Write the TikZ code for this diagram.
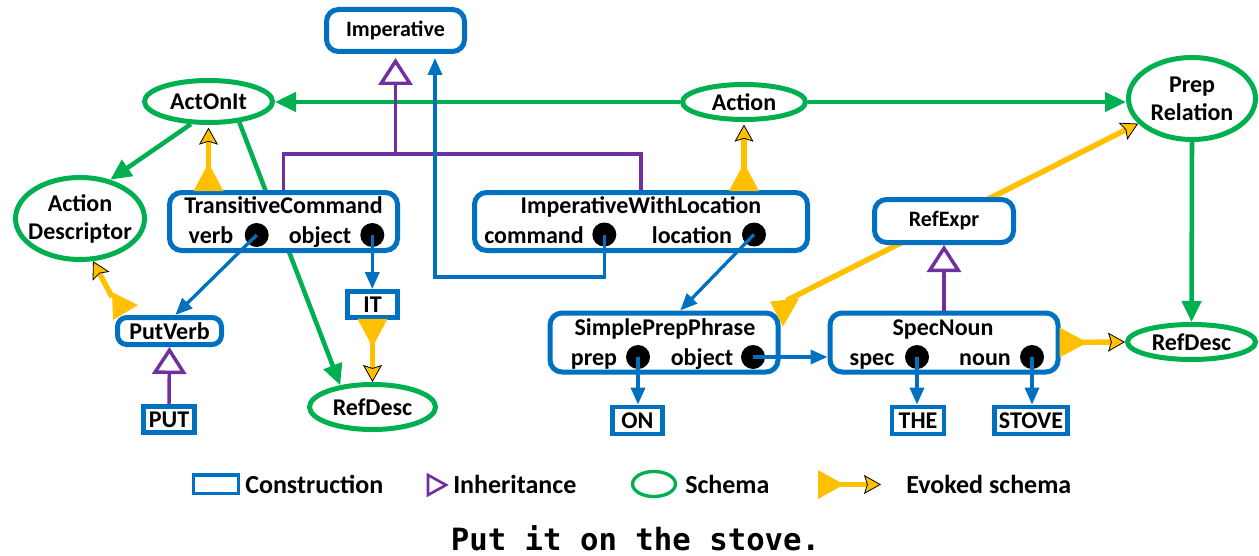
\documentclass[tikz,border=0pt]{standalone}
\usepackage{fontspec}
\setmainfont{Carlito}
\newfontfamily\codefont{DejaVu Sans Mono}
\usetikzlibrary{arrows.meta,shapes.geometric,calc,backgrounds}

\definecolor{cxblue}{HTML}{0070C0}
\definecolor{schgreen}{HTML}{00B050}
\definecolor{inhpurple}{HTML}{7030A0}
\definecolor{evkyellow}{HTML}{FFC000}

\tikzset{
  lbl/.style={font=\bfseries\fontsize{18}{21}\selectfont, inner sep=0pt},
  smalllbl/.style={font=\bfseries\fontsize{16.5}{20}\selectfont},
  legend/.style={font=\bfseries\fontsize{19.5}{23}\selectfont, inner sep=0pt},
  cxbox/.style={draw=cxblue, line width=3.75pt, rounded corners=9pt, fill=white, inner sep=0pt, lbl},
  wordbox/.style={draw=cxblue, line width=3.6pt, fill=white, inner sep=0pt, lbl},
  schema/.style={ellipse, draw=schgreen, line width=3.75pt, fill=white, inner sep=0pt},
  slot/.style={circle, fill=black, minimum size=18pt, inner sep=0pt},
  schemaarrow/.style={draw=schgreen, line width=3.4pt, -{Triangle[length=15.75pt,width=14.25pt]}},
  cxarrow/.style={draw=cxblue, line width=2.5pt, -{Triangle[length=12.75pt,width=10.5pt]}},
  inhline/.style={draw=inhpurple, line width=2.6pt},
  inharrow/.style={inhline, -{Triangle[open,length=20.25pt,width=25.5pt]}},
  evline/.style={draw=evkyellow, line width=4.1pt,
    -{Stealth[length=12.75pt,width=14.25pt,inset=2.25pt,fill=evkyellow,color=black,line width=0.6pt]}},
  evbase/.style={fill=evkyellow},
}

\begin{document}
\begin{tikzpicture}[x=0.75pt,y=-0.75pt]
\useasboundingbox (0,0) rectangle (1259,556);

% ---------- schemas ----------
\node[schema, minimum width=96pt, minimum height=31.5pt] (actonit) at (208.5,101.5) {};
\node[lbl] (actonit-t) at (actonit) {ActOnIt};
\node[schema, minimum width=92.25pt, minimum height=26.25pt] (act) at (744,102) {};
\node[lbl] (act-t) at (act) {Action};
\node[schema, minimum width=95.25pt, minimum height=61.5pt] (preprel) at (1192,98.5) {};
\node[lbl, align=center] (preprel-t) at (preprel) {Prep\\Relation};
\node[schema, minimum width=96.75pt, minimum height=61.5pt] (actdesc) at (80,218.5) {};
\node[lbl, align=center] (actdesc-t) at (actdesc) {Action\\Descriptor};
\node[schema, minimum width=94.5pt, minimum height=33.75pt] (refdescL) at (372.5,407) {};
\node[lbl] (refdescL-t) at (refdescL) {RefDesc};
\node[schema, minimum width=96pt, minimum height=26.25pt] (refdescR) at (1191.5,342) {};
\node[lbl] (refdescR-t) at (refdescR) {RefDesc};

% ---------- constructions ----------
\node[cxbox, smalllbl, minimum width=103.5pt, minimum height=31.5pt] (imp) at (395.5,30.5) {Imperative};
\node[cxbox, smalllbl, minimum width=104.25pt, minimum height=32.25pt] (refexpr) at (944,221) {RefExpr};
\node[cxbox, rounded corners=7pt, minimum width=78pt, minimum height=20.25pt] (pv) at (169.5,331) {PutVerb};

\node[cxbox, minimum width=171pt, minimum height=43.5pt] (tc) at (283.5,221.5) {};
\node[lbl, anchor=base] (tc-t) at (283.5,213) {TransitiveCommand};
\node[lbl, anchor=base] (tc-verb) at (211,243) {verb};
\node[lbl, anchor=base] (tc-obj) at (320,243) {object};
\node[slot] (tc-verbslot) at (256.7,235) {};
\node[slot] (tc-objslot) at (372.3,235) {};

\node[cxbox, minimum width=249.75pt, minimum height=43.5pt] (iwl) at (641,221.5) {};
\node[lbl, anchor=base] (iwl-t) at (641,213) {ImperativeWithLocation};
\node[lbl, anchor=base] (iwl-cmd) at (534,243) {command};
\node[lbl, anchor=base] (iwl-loc) at (692,243) {location};
\node[slot] (iwl-cmdslot) at (604.3,234.5) {};
\node[slot] (iwl-locslot) at (754,234.5) {};

\node[cxbox, minimum width=171pt, minimum height=44.25pt] (sp) at (664,342.5) {};
\node[lbl, anchor=base] (sp-t) at (665,335.5) {SimplePrepPhrase};
\node[lbl, anchor=base] (sp-prep) at (594,365.5) {prep};
\node[lbl, anchor=base] (sp-obj) at (702,365.5) {object};
\node[slot] (sp-prepslot) at (638,357) {};
\node[slot] (sp-objslot) at (753,357) {};

\node[cxbox, minimum width=171pt, minimum height=44.25pt] (sn) at (944,342.5) {};
\node[lbl, anchor=base] (sn-t) at (943,335.5) {SpecNoun};
\node[lbl, anchor=base] (sn-spec) at (872,365.5) {spec};
\node[lbl, anchor=base] (sn-noun) at (985,365.5) {noun};
\node[slot] (sn-specslot) at (917,357) {};
\node[slot] (sn-nounslot) at (1032,357) {};

% ---------- words ----------
\node[wordbox, minimum width=37.5pt, minimum height=19.5pt] (it) at (372.5,304.5) {IT};
\node[wordbox, minimum width=38.25pt, minimum height=19.5pt] (put) at (169,419.5) {PUT};
\node[wordbox, minimum width=37.5pt, minimum height=20.25pt] (on) at (637.5,420.5) {ON};
\node[wordbox, minimum width=39pt, minimum height=20.25pt] (the) at (918,420.5) {THE};
\node[wordbox, minimum width=54.75pt, minimum height=20.25pt] (stove) at (1031,420.5) {STOVE};

% ---------- links running under the boxes ----------
\begin{scope}[on background layer]
  \draw[schemaarrow] (act.west) -- (act.west -| actonit.east);
  \draw[schemaarrow] (act.east) -- (act.east -| preprel.west);
  \draw[schemaarrow] (actonit.232) -- (actdesc.52);
  \draw[schemaarrow] (actonit.326) -- (refdescL.146);
  \draw[schemaarrow] (preprel.south) -- (refdescR.north);
  \coordinate (ev5) at (sp.north east);
  \draw[evline] ($(ev5)+(6,-10)$) -- (preprel.205);
\end{scope}

% ---------- inheritance ----------
\coordinate (inhj) at (imp.south |- 0,154);
\draw[inhline] (tc.north) |- (inhj);
\draw[inhline] (iwl.north) |- (inhj);
\draw[inharrow, shorten >=3pt] (inhj) -- (imp.south);
\draw[inharrow] (put.north) -- (pv.south);
\draw[inharrow] (sn.north) -- (refexpr.south);

% ---------- constituent links ----------
\coordinate (cmdbend) at (435,277);
\draw[cxarrow, shorten >=3pt] (iwl-cmdslot.center) |- (cmdbend) -- (cmdbend |- imp.south);
\draw[cxarrow] (tc-verbslot.center) -- (pv.70);
\draw[cxarrow] (tc-objslot.center) -- (tc-objslot.center |- it.north);
\draw[cxarrow] (iwl-locslot.center) -- (sp.63);
\draw[cxarrow] (sp-objslot.center) -- (sp-objslot.center -| sn.west);
\draw[cxarrow] (sp-prepslot.center) -- (sp-prepslot.center |- on.north);
\draw[cxarrow] (sn-specslot.center) -- (sn-specslot.center |- the.north);
\draw[cxarrow] (sn-nounslot.center) -- (sn-nounslot.center |- stove.north);

% ---------- evoked schemas ----------
\coordinate (ev1) at (actonit.south |- tc.north);
\fill[evbase] ($(ev1)+(-15,1)$) -- ($(ev1)+(15,1)$) -- ($(ev1)+(0,-27)$) -- cycle;
\draw[evline, shorten >=2pt] (ev1) -- (actonit.south);

\coordinate (ev2) at (act.south |- iwl.north);
\fill[evbase] ($(ev2)+(-15,1)$) -- ($(ev2)+(15,1)$) -- ($(ev2)+(0,-27)$) -- cycle;
\draw[evline, shorten >=2pt] (ev2) -- (act.south);

\fill[evbase] ($(it.south)+(-15,-1)$) -- ($(it.south)+(15,-1)$) -- ($(it.south)+(0,27)$) -- cycle;
\draw[evline] (it.south) -- (refdescL.north);

\coordinate (ev4) at (pv.north west);
\fill[evbase] ($(ev4)+(-3,-23)$) -- ($(ev4)+(-2,5)$) -- ($(ev4)+(23,-10)$) -- cycle;
\draw[evline] ($(ev4)+(-3,-18)$) -- (actdesc.287);

\fill[evbase] ($(ev5)+(-10.5,-9)$) -- ($(ev5)+(18.5,-12)$) -- ($(ev5)+(2.5,16)$) -- cycle;

\fill[evbase] ($(sn.east)+(-1,-15)$) -- ($(sn.east)+(-1,15)$) -- ($(sn.east)+(27,0)$) -- cycle;
\draw[evline] (sn.east) -- (refdescR.west);

% ---------- legend ----------
\draw[cxblue, line width=2.5pt] (193.5,475) rectangle (238.5,493.5);
\node[legend, anchor=base west] (lg-cx) at (245,493) {Construction};
\draw[inhpurple, line width=2pt] (428,475) -- (428,495) -- (446,485) -- cycle;
\node[legend, anchor=base west] (lg-inh) at (453,493) {Inheritance};
\draw[schgreen, line width=2.5pt] (654,484) ellipse [x radius=16.1pt, y radius=9.4pt];
\node[legend, anchor=base west] (lg-sch) at (685,493) {Schema};
\fill[evbase] (818,470) -- (818,499) -- (844,484.5) -- cycle;
\draw[evline] (818,484.5) -- (881,484.5);
\node[legend, anchor=base west] (lg-ev) at (906,493) {Evoked schema};

% ---------- sentence ----------
\node[font=\codefont\bfseries\fontsize{23}{27}\selectfont, anchor=base, inner sep=0pt] (sentence) at (635.5,550) {Put it on the stove.};
\end{tikzpicture}
\end{document}
